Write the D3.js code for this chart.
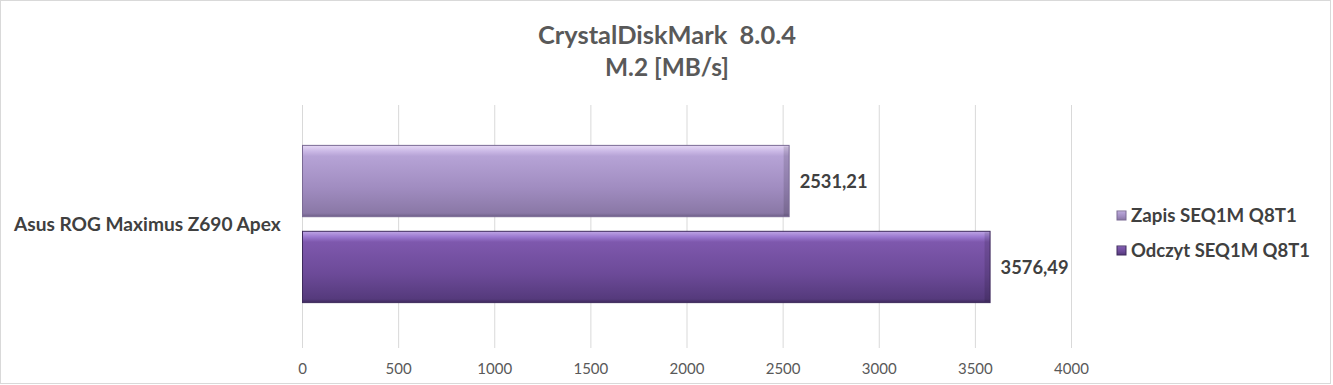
<!DOCTYPE html>
<html><head><meta charset="utf-8">
<script src="https://cdn.jsdelivr.net/npm/d3@7"></script>
<style>body{margin:0;background:#fff}svg{display:block}text{font-family:Lato,"Open Sans",sans-serif}</style>
</head><body>
<svg id="c" width="1333" height="385"></svg>
<script>
const categories = ["Asus ROG Maximus Z690 Apex"];
const seriesNames = ["Zapis SEQ1M Q8T1", "Odczyt SEQ1M Q8T1"];
const zapisValues = [2531.21];
const odczytValues = [3576.49];
const tickValues = [0, 500, 1000, 1500, 2000, 2500, 3000, 3500, 4000];
const titleLines = ["CrystalDiskMark  8.0.4", "M.2 [MB/s]"];

const svg = d3.select("#c");
const W = 1333, H = 385;
const m = {left: 302, right: 262, top: 105, bottom: 42};
const pw = W - m.left - m.right, ph = H - m.top - m.bottom;

// scale font so text reaches a target width
function fit(sel, target) {
  sel.each(function() {
    const t = d3.select(this);
    const fs = parseFloat(t.attr("font-size"));
    const len = this.getComputedTextLength();
    if (len > 0) t.attr("font-size", (fs * target / len).toFixed(2));
  });
}

svg.append("rect").attr("x", 0.5).attr("y", 0.5).attr("width", W - 3).attr("height", H - 2)
  .attr("fill", "#fff").attr("stroke", "#d9d9d9");

const defs = svg.append("defs");
function grad(id, stops) {
  const g = defs.append("linearGradient").attr("id", id).attr("x1", 0).attr("y1", 0).attr("x2", 0).attr("y2", 1);
  stops.forEach(s => g.append("stop").attr("offset", s[0]).attr("stop-color", s[1]));
}
grad("g0", [[0, "#e6d9f5"], [0.08, "#cbb9e6"], [0.15, "#b6a3d6"], [0.6, "#a08cc0"], [0.95, "#8a78a6"], [1, "#6e5f88"]]);
grad("g1", [[0, "#bfa6e6"], [0.08, "#9a78cf"], [0.15, "#7e58ad"], [0.6, "#6c4a98"], [0.95, "#553a7c"], [1, "#3e2a5c"]]);

const x = d3.scaleLinear().domain([0, 4000]).range([m.left, m.left + pw]);
const y0 = d3.scaleBand().domain(categories).range([m.top, m.top + ph]).paddingInner(0).paddingOuter(0);
const y1 = d3.scaleBand().domain(seriesNames).range([0, y0.bandwidth()]).paddingInner(0.17).paddingOuter(0.47);

// gridlines
const g = svg.append("g");
g.selectAll("line.grid").data(tickValues).join("line")
  .attr("x1", d => x(d) + 0.5).attr("x2", d => x(d) + 0.5)
  .attr("y1", m.top).attr("y2", m.top + ph + 5)
  .attr("stroke", "#d9d9d9").attr("stroke-width", 1);

// axis labels
const ax = svg.append("g").attr("transform", `translate(0,${m.top + ph})`)
  .call(d3.axisBottom(x).tickValues(tickValues).tickSize(0).tickPadding(20).tickFormat(d3.format("d")));
ax.select(".domain").remove();
ax.selectAll("text").attr("font-size", 15).attr("fill", "#595959").style("font-family", "Lato, sans-serif");

const data = [
  {s: seriesNames[0], v: zapisValues[0], c: categories[0], fill: "url(#g0)", edge: "#7a6a94"},
  {s: seriesNames[1], v: odczytValues[0], c: categories[0], fill: "url(#g1)", edge: "#3e2a5c"}
];
const bars = svg.append("g");
bars.selectAll("rect").data(data).join("rect")
  .attr("x", x(0) + 0.5)
  .attr("y", d => y0(d.c) + y1(d.s))
  .attr("width", d => x(d.v) - x(0))
  .attr("height", y1.bandwidth())
  .attr("fill", d => d.fill)
  .attr("stroke", d => d.edge).attr("stroke-width", 1);

bars.selectAll("rect.bevel").data(data).join("rect")
  .attr("x", d => x(d.v) - 5)
  .attr("y", d => y0(d.c) + y1(d.s) + 1)
  .attr("width", 5)
  .attr("height", y1.bandwidth() - 2)
  .attr("fill", "#000").attr("opacity", 0.12);

const vals = svg.append("g").selectAll("text").data(data).join("text")
  .attr("x", d => x(d.v) + 11)
  .attr("y", d => y0(d.c) + y1(d.s) + y1.bandwidth() / 2 + 7)
  .attr("font-size", 17).attr("font-weight", "bold").attr("fill", "#404040")
  .text(d => d3.format(".2f")(d.v).replace(".", ","));
fit(vals, 68);

// category label
const cat = svg.append("g").selectAll("text").data(categories).join("text")
  .attr("x", 14).attr("y", d => y0(d) + y0.bandwidth() / 2 + 7)
  .attr("font-size", 16.5).attr("font-weight", "bold").attr("fill", "#404040")
  .text(d => d);
fit(cat, 267);

// title
const tt = svg.append("g").selectAll("text").data(titleLines).join("text")
  .attr("x", 667).attr("y", (d, i) => 44 + i * 32)
  .attr("text-anchor", "middle").attr("font-size", 24).attr("font-weight", "bold").attr("fill", "#595959")
  .attr("xml:space", "preserve").style("white-space", "pre")
  .text(d => d);
fit(tt.filter((d, i) => i === 0), 258);
fit(tt.filter((d, i) => i === 1), 124);

// legend
const leg = svg.append("g").selectAll("g").data(seriesNames).join("g")
  .attr("transform", (d, i) => `translate(1117,${222 + i * 35})`);
leg.append("rect").attr("x", 0).attr("y", -11).attr("width", 9).attr("height", 9)
  .attr("fill", (d, i) => i ? "url(#g1)" : "url(#g0)").attr("stroke", (d, i) => i ? "#3e2a5c" : "#7a6a94");
const lt = leg.append("text").attr("x", 14).attr("y", 0).attr("font-size", 16).attr("font-weight", "bold").attr("fill", "#404040").text(d => d);
fit(lt.filter((d, i) => i === 0), 166);
fit(lt.filter((d, i) => i === 1), 179);
</script>
</body></html>
